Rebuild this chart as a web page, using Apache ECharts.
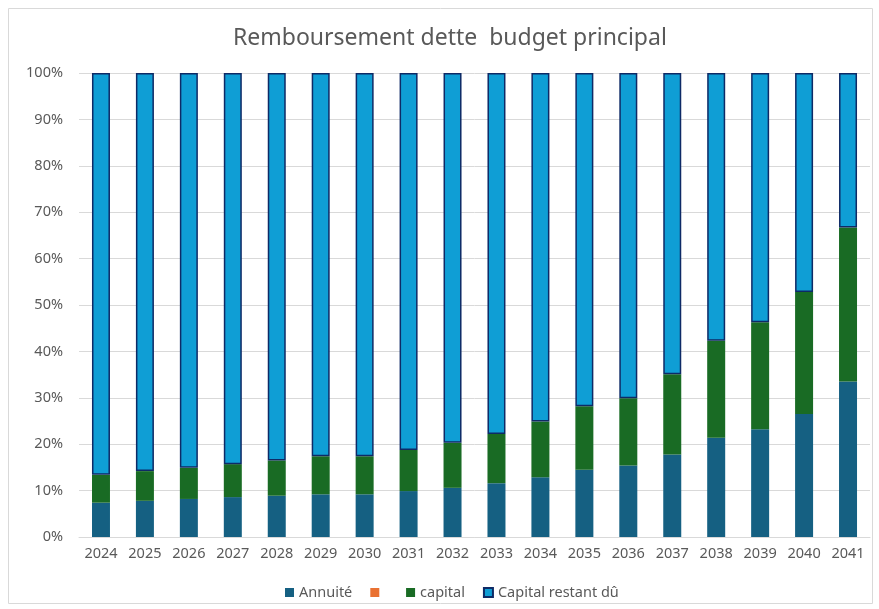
<!DOCTYPE html>
<html>
<head>
<meta charset="utf-8">
<script src="https://cdn.jsdelivr.net/npm/echarts@6/dist/echarts.min.js"></script>
<style>
  html, body { margin: 0; padding: 0; background: #fff; }
  #chart { width: 879px; height: 609px; }
</style>
</head>
<body>
<div id="chart"></div>
<script>
// values, in % of each year's total
const years = ['2024', '2025', '2026', '2027', '2028', '2029', '2030', '2031', '2032',
    '2033', '2034', '2035', '2036', '2037', '2038', '2039', '2040', '2041'];
const annuite = [7.4, 7.8, 8.2, 8.6, 8.9, 9.2, 9.2, 9.9, 10.6,
    11.6, 12.9, 14.5, 15.4, 17.8, 21.4, 23.2, 26.5, 33.5];
const capital = [6.0, 6.4, 6.7, 7.1, 7.6, 8.2, 8.2, 8.85, 9.7,
    10.6, 12.0, 13.7, 14.5, 17.3, 20.9, 23.1, 26.3, 33.2];
const restant = [86.6, 85.8, 85.1, 84.3, 83.5, 82.6, 82.6, 81.25, 79.7,
    77.8, 75.1, 71.8, 70.1, 64.9, 57.7, 53.7, 47.2, 33.3];
const vide = years.map(() => 0);

const textColor = '#595959';
const font = 'Noto Sans';

const myChart = echarts.init(document.getElementById('chart'));

const option = {
    animation: false,
    textStyle: { fontFamily: font },
    graphic: [{
        type: 'rect',
        shape: { x: 8.5, y: 8.5, width: 864, height: 595 },
        style: { fill: 'none', stroke: '#d9d9d9', lineWidth: 1 }
    }],
    title: {
        text: 'Remboursement dette  budget principal',
        left: 228,
        top: 22,
        textStyle: { color: textColor, fontSize: 23, fontWeight: 'normal', fontFamily: font }
    },
    legend: {
        bottom: 4,
        left: 280,
        itemWidth: 9,
        itemHeight: 9,
        itemGap: 18,
        textStyle: { color: textColor, fontSize: 14.5 },
        data: [
            { name: 'Annuité', icon: 'rect' },
            { name: ' ', icon: 'rect' },
            { name: 'capital', icon: 'rect' },
            { name: 'Capital restant dû', icon: 'rect' }
        ]
    },
    grid: { left: 79, right: 9, top: 73, bottom: 72 },
    xAxis: {
        type: 'category',
        data: years,
        axisLine: { lineStyle: { color: '#d9d9d9' } },
        axisTick: { show: false },
        axisLabel: { color: textColor, fontSize: 14.5, margin: 9 }
    },
    yAxis: {
        type: 'value',
        min: 0,
        max: 100,
        interval: 10,
        axisLine: { show: false },
        axisTick: { show: false },
        splitLine: { lineStyle: { color: '#d9d9d9' } },
        axisLabel: { color: textColor, fontSize: 14.5, margin: 16, formatter: '{value}%' }
    },
    series: [{
        name: 'Annuité',
        type: 'bar',
        stack: 'tot',
        barWidth: 18,
        itemStyle: { color: '#156082' },
        data: annuite
    }, {
        name: ' ',
        type: 'bar',
        stack: 'tot',
        barWidth: 18,
        itemStyle: { color: '#E97132' },
        data: vide
    }, {
        name: 'capital',
        type: 'bar',
        stack: 'tot',
        barWidth: 18,
        itemStyle: { color: '#196B24' },
        data: capital
    }, {
        name: 'Capital restant dû',
        type: 'bar',
        stack: 'tot',
        barWidth: 18,
        itemStyle: { color: '#0F9ED5', borderColor: '#0E2A66', borderWidth: 1.5 },
        data: restant
    }]
};
myChart.setOption(option);
</script>
</body>
</html>
